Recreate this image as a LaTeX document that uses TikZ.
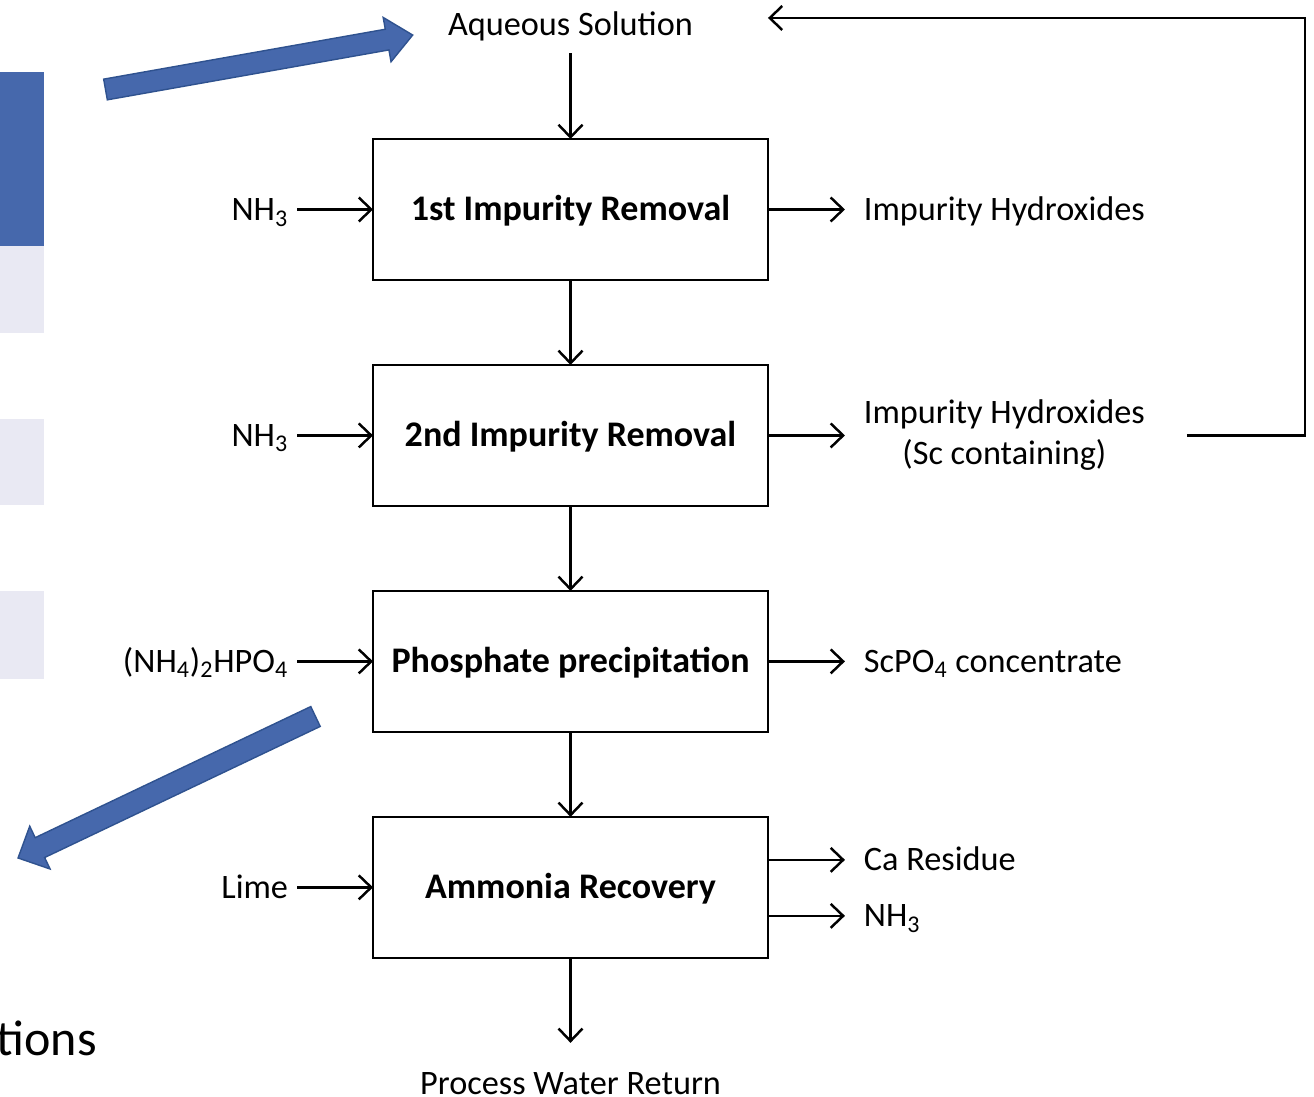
\documentclass[tikz,border=0pt]{standalone}
\usepackage{fontspec}
\setmainfont{Carlito}
\usepackage{tikz}
\usetikzlibrary{
  arrows.meta,
  positioning
}
\definecolor{SlideBlue}{RGB}{70,104,172}
\definecolor{ArrowEdge}{RGB}{47,82,143}
\definecolor{SlideLavender}{RGB}{233,233,243}
\tikzset{
  procnode/.style={draw=black,line width=1.4pt,outer sep=0pt,minimum width=7.9cm,minimum height=2.82cm,align=center,text height=13pt,text depth=0pt,font=\bfseries\fontsize{20.5}{24}\selectfont},
  inlabel/.style={inner xsep=0.18cm,inner ysep=0pt,outer sep=0pt,text height=12.6pt,text depth=0pt,font=\fontsize{19.5}{23.4}\selectfont},
  outlabel/.style={inner xsep=0.38cm,inner ysep=0pt,outer sep=0pt,text height=12.6pt,text depth=0pt,font=\fontsize{19.5}{23.4}\selectfont},
  outlabeltwo/.style={inner xsep=0.38cm,inner ysep=0pt,outer sep=0pt,align=center,font=\fontsize{19.5}{23.4}\selectfont},
  endlabel/.style={inner xsep=0pt,inner ysep=0.24cm,outer sep=0pt,font=\fontsize{19.5}{23.4}\selectfont},
  flowarrow/.style={-{Straight Barb[length=2.5mm,width=4.8mm]},line width=1.4pt},
  bluearrow/.style={fill=SlideBlue,draw=ArrowEdge,line width=0.8pt,line join=miter}
}
\begin{document}
\begin{tikzpicture}[x=0.02cm,y=-0.02cm]
\useasboundingbox (0,0) rectangle (1314,1097);
\fill[SlideBlue] (0,72) rectangle (44,246);
\foreach \ya/\yb in {246/333,419/505,591/679}
  \fill[SlideLavender] (0,\ya) rectangle (44,\yb);
\node[font=\fontsize{28.5}{34}\selectfont,anchor=base east,inner sep=0pt] (tions) at (97,1055) {tions};

\node[procnode] (b1) at (570.5,209.5) {1st Impurity Removal};
\node[procnode, below=1.7cm of b1] (b2) {2nd Impurity Removal};
\node[procnode, below=1.7cm of b2] (b3) {Phosphate precipitation};
\node[procnode, below=1.7cm of b3] (b4) {Ammonia Recovery};
\node[endlabel, above=1.72cm of b1] (aq) {Aqueous Solution};
\node[endlabel, below=1.7cm of b4, inner ysep=0pt, text height=29.6pt, text depth=0pt] (pw) {Process Water Return};

\node[inlabel, left=1.52cm of b1] (n1) {NH\textsubscript{3}};
\node[inlabel, left=1.52cm of b2] (n2) {NH\textsubscript{3}};
\node[inlabel, left=1.52cm of b3] (dap) {(NH\textsubscript{4})\textsubscript{2}HPO\textsubscript{4}};
\node[inlabel, left=1.52cm of b4] (lime) {Lime};

\node[outlabel, right=1.54cm of b1] (ih1) {Impurity Hydroxides};
\node[outlabeltwo, right=1.54cm of b2] (ih2) {Impurity Hydroxides\\(Sc containing)};
\node[outlabel, right=1.54cm of b3] (scp) {ScPO\textsubscript{4} concentrate};
\node[outlabel, right=1.54cm of b4.east, yshift=0.55cm] (ca) {Ca Residue};
\node[outlabel, right=1.54cm of b4.east, yshift=-0.57cm] (nh) {NH\textsubscript{3}};
\coordinate (fbk) at (1305,18);

\draw[flowarrow] (aq) -- (b1);
\draw[flowarrow] (b1) -- (b2);
\draw[flowarrow] (b2) -- (b3);
\draw[flowarrow] (b3) -- (b4);
\draw[flowarrow] (b4) -- (pw);
\draw[flowarrow] (n1) -- (b1);
\draw[flowarrow] (n2) -- (b2);
\draw[flowarrow] (dap) -- (b3);
\draw[flowarrow] (lime) -- (b4);
\draw[flowarrow] (b1) -- (ih1);
\draw[flowarrow] (b2) -- (ih2);
\draw[flowarrow] (b3) -- (scp);
\draw[flowarrow] (b4.east |- ca) -- (ca);
\draw[flowarrow] (b4.east |- nh) -- (nh);
\draw[flowarrow] ([xshift=0.46cm]ih2.east) -| (fbk) -- (b1.east |- fbk);

\begin{scope}[shift={(105.5,89.5)},rotate=10.05]
  \filldraw[bluearrow] (0,-10.5) -- (286,-10.5) -- (286,-22.5) -- (312,0) -- (286,22.5) -- (286,10.5) -- (0,10.5) -- cycle;
\end{scope}
\begin{scope}[shift={(315.5,716.5)},rotate=205.44]
  \filldraw[bluearrow] (0,-11) -- (305.2,-11) -- (305.2,-23.7) -- (329.4,0) -- (305.2,23.7) -- (305.2,11) -- (0,11) -- cycle;
\end{scope}
\end{tikzpicture}
\end{document}
